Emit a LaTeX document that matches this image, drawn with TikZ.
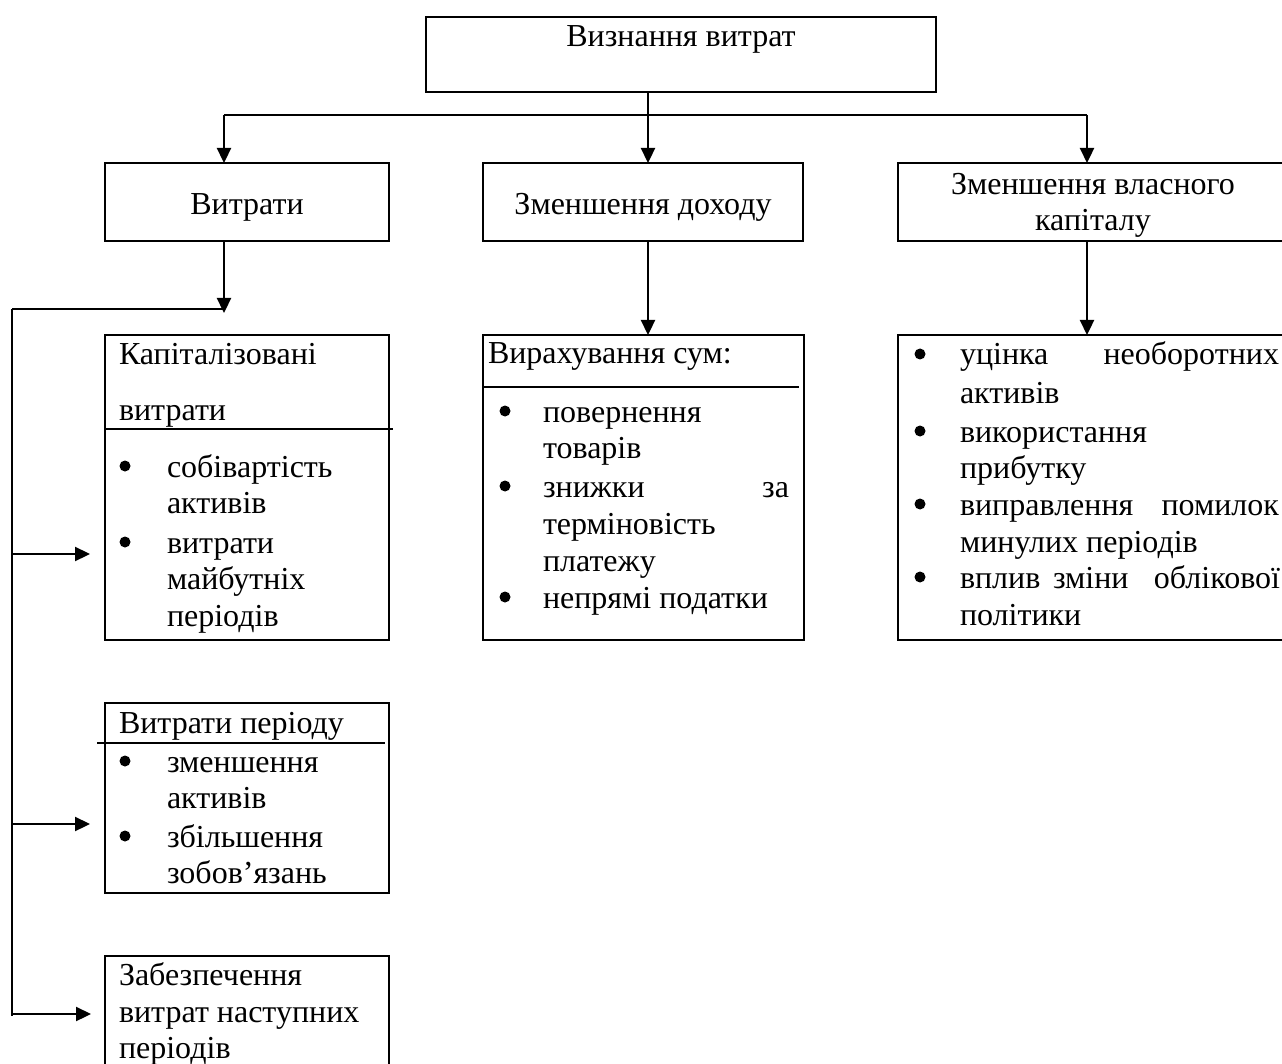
\documentclass[tikz,border=0pt]{standalone}
\usepackage{fontspec}
\setmainfont{Liberation Serif}
\usetikzlibrary{arrows.meta}
\tikzset{
  box/.style={draw, line width=2.5pt, inner sep=0pt, outer sep=0pt, anchor=north west},
  conn/.style={line width=2.3pt},
  arr/.style={line width=2.3pt, -{Triangle[length=15pt,width=14pt]}},
  div/.style={line width=1.7pt},
  txt/.style={inner sep=0pt, outer sep=0pt, font=\fontsize{32}{37}\selectfont},
  lt/.style={txt, anchor=base west},
  ct/.style={txt, anchor=base},
  rt/.style={txt, anchor=base east},
  bul/.style={circle, fill, inner sep=0pt, outer sep=0pt, minimum size=11pt, yshift=11pt},
}
\begin{document}
\begin{tikzpicture}[x=1pt,y=-1pt]
\useasboundingbox (0,0) rectangle (1282,1064);
\clip (0,0) rectangle (1282,1064);
% boxes
\node[box, minimum width=510pt, minimum height=75pt] (top) at (426,17) {};
\node[box, minimum width=284pt, minimum height=78pt] (vytraty) at (105,163) {};
\node[box, minimum width=320pt, minimum height=78pt] (dokhid) at (483,163) {};
\node[box, minimum width=390pt, minimum height=78pt] (kapital) at (898,163) {};
\node[box, minimum width=284pt, minimum height=305pt] (cap) at (105,335) {};
\node[box, minimum width=321pt, minimum height=305pt] (vyrakh) at (483,335) {};
\node[box, minimum width=390pt, minimum height=305pt] (vlasn) at (898,335) {};
\node[box, minimum width=284pt, minimum height=190pt] (period) at (105,703) {};
\node[box, minimum width=284pt, minimum height=130pt] (zabezp) at (105,956) {};
% dividers
\draw[div] (105,429) -- (393,429);
\draw[div] (97,743) -- (385,743);
\draw[div] (483,387) -- (799,387);
% coordinates for connectors
\coordinate (stem) at (648,115);
\coordinate (busL) at (224,115);
\coordinate (busR) at (1087,115);
\coordinate (jn) at (224,309);
\coordinate (lt) at (12,309);
\coordinate (lb) at (12,1016);
\coordinate (r1) at (12,554);
\coordinate (r2) at (12,824);
\coordinate (r3) at (12,1014);
% connectors
\draw[arr] (top.south -| stem) -- (stem |- dokhid.north);
\draw[conn] (busL) -- (busR);
\draw[arr] (busL) -- (busL |- vytraty.north);
\draw[arr] (busR) -- (busR |- kapital.north);
\draw[arr] (vytraty.south -| jn) -- ([yshift=-4pt]jn);
\draw[conn] (lt) -- (jn);
\draw[conn] (lt) -- (lb);
\draw[arr, shorten >=15pt] (r1) -- (r1 -| cap.west);
\draw[arr, shorten >=15pt] (r2) -- (r2 -| period.west);
\draw[arr, shorten >=14pt] (r3) -- (r3 -| zabezp.west);
\draw[arr] (dokhid.south -| stem) -- (stem |- vyrakh.north);
\draw[arr] (kapital.south -| busR) -- (busR |- vlasn.north);
% texts: top row
\node[ct] (t0) at (681,47) {Визнання витрат};
\node[ct] (t1) at (247,215) {Витрати};
\node[ct] (t2) at (643,215) {Зменшення доходу};
\node[ct] (t3) at (1093,195) {Зменшення власного};
\node[ct] (t4) at (1093,231) {капіталу};
% cap box
\node[lt] (c0) at (119,365) {Капіталізовані};
\node[lt] (c1) at (119,420) {витрати};
\node[bul] (cb1) at (125,477) {};
\node[lt] (c2) at (167,477) {собівартість};
\node[lt] (c3) at (167,513) {активів};
\node[bul] (cb2) at (125,553) {};
\node[lt] (c4) at (167,553) {витрати};
\node[lt] (c5) at (167,589) {майбутніх};
\node[lt] (c6) at (167,626) {періодів};
% period box
\node[lt] (p0) at (119,733) {Витрати періоду};
\node[bul] (pb1) at (125,772) {};
\node[lt] (p1) at (167,772) {зменшення};
\node[lt] (p2) at (167,808) {активів};
\node[bul] (pb2) at (125,847) {};
\node[lt] (p3) at (167,847) {збільшення};
\node[lt] (p4) at (167,883) {зобов’язань};
% zabezp box
\node[lt] (z0) at (119,985) {Забезпечення};
\node[lt] (z1) at (119,1022) {витрат наступних};
\node[lt] (z2) at (119,1058) {періодів};
% vyrakh box
\node[lt] (v0) at (488,363) {Вирахування сум:};
\node[bul] (vb1) at (505,422) {};
\node[lt] (v1) at (543,422) {повернення};
\node[lt] (v2) at (543,458) {товарів};
\node[bul] (vb2) at (505,497) {};
\node[lt] (v3) at (543,497) {знижки};
\node[rt] (v3b) at (789,497) {за};
\node[lt] (v4) at (543,534) {терміновість};
\node[lt] (v5) at (543,571) {платежу};
\node[bul] (vb3) at (505,608) {};
\node[lt] (v6) at (543,608) {непрямі податки};
% vlasn box
\node[bul] (wb1) at (920,365) {};
\node[lt] (w1) at (960,365) {уцінка};
\node[rt] (w1b) at (1279,365) {необоротних};
\node[lt] (w2) at (960,403) {активів};
\node[bul] (wb2) at (920,442) {};
\node[lt] (w3) at (960,442) {використання};
\node[lt] (w4) at (960,478) {прибутку};
\node[bul] (wb3) at (920,515) {};
\node[lt] (w5) at (960,515) {виправлення};
\node[rt] (w5b) at (1279,515) {помилок};
\node[lt] (w6) at (960,552) {минулих періодів};
\node[bul] (wb4) at (920,588) {};
\node[lt] (w7) at (960,588) {вплив};
\node[lt] (w7b) at (1053,588) {зміни};
\node[rt] (w7c) at (1280,588) {облікової};
\node[lt] (w8) at (960,625) {політики};
\end{tikzpicture}
\end{document}
